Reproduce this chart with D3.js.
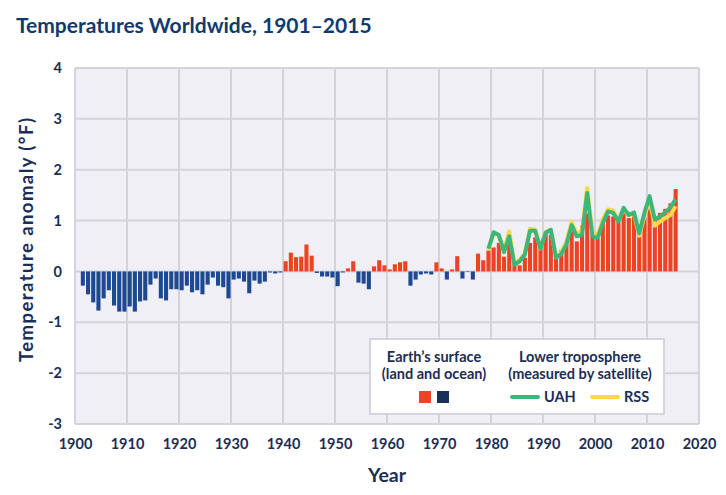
<!DOCTYPE html>
<html><head><meta charset="utf-8">
<script src="https://cdn.jsdelivr.net/npm/d3@7/dist/d3.min.js"></script>
<style>
html,body{margin:0;padding:0;background:#fff;}
svg{display:block;font-family:Lato,"Open Sans",sans-serif;}
</style></head>
<body><svg id="c" width="726" height="495"></svg>
<script>
const startYear = 1901;
const surface = [
-0.28,-0.45,-0.61,-0.77,-0.53,-0.37,-0.67,-0.79,-0.79,-0.69,
-0.79,-0.59,-0.57,-0.26,-0.14,-0.53,-0.57,-0.35,-0.35,-0.37,
-0.28,-0.41,-0.37,-0.45,-0.26,-0.12,-0.28,-0.31,-0.53,-0.16,
-0.14,-0.20,-0.43,-0.18,-0.24,-0.20,-0.02,-0.04,-0.02,0.20,
0.37,0.28,0.29,0.53,0.31,-0.03,-0.10,-0.10,-0.12,-0.29,
-0.02,0.06,0.20,-0.22,-0.24,-0.35,0.10,0.22,0.12,0.04,
0.14,0.18,0.20,-0.28,-0.16,-0.06,-0.04,-0.06,0.18,0.06,
-0.16,0.04,0.30,-0.14,-0.01,-0.16,0.35,0.22,0.41,0.47,
0.56,0.29,0.52,0.16,0.12,0.27,0.56,0.67,0.45,0.75,
0.72,0.28,0.42,0.54,0.78,0.59,0.90,1.14,0.72,0.65,
1.00,1.10,1.08,0.98,1.18,1.05,1.08,0.92,1.05,1.28,
1.02,1.15,1.23,1.34,1.62];
const satStart = 1979;
const uah = [0.45,0.77,0.72,0.38,0.69,0.13,0.20,0.33,0.80,0.80,
0.45,0.76,0.82,0.27,0.34,0.53,0.91,0.69,0.72,1.54,
0.69,0.66,0.95,1.18,1.15,0.98,1.25,1.11,1.16,0.75,
1.15,1.48,1.02,1.08,1.16,1.26,1.42];
const rss = [0.42,0.76,0.70,0.40,0.79,0.16,0.22,0.36,0.84,0.82,
0.45,0.78,0.82,0.28,0.38,0.58,0.97,0.72,0.82,1.64,
0.76,0.72,1.02,1.22,1.20,1.00,1.22,1.10,1.14,0.70,
1.08,1.40,0.90,0.98,1.05,1.11,1.28];
const yTicks = [-3,-2,-1,0,1,2,3,4];
const xTicks = d3.range(1900, 2021, 10);
const legendSurface = ["Earth\u2019s surface","(land and ocean)"];
const legendSat = ["Lower troposphere","(measured by satellite)"];
const seriesNames = ["UAH","RSS"];

const navy = "#1b2e55";
const svg = d3.select("#c");
const x = d3.scaleLinear().domain([1900,2020]).range([75,699]);
const y = d3.scaleLinear().domain([-3,4]).range([424,68]);

// plot background
svg.append("rect").attr("x",x(1900)).attr("y",y(4)).attr("width",x(2020)-x(1900)).attr("height",y(-3)-y(4)).attr("fill","#efeff5");
// grid
svg.append("g").selectAll("line").data(yTicks).join("line")
  .attr("x1",x(1900)).attr("x2",x(2020)).attr("y1",d=>y(d)).attr("y2",d=>y(d))
  .attr("stroke","#d3d3d8").attr("stroke-width",2);
svg.append("g").selectAll("line").data(xTicks).join("line")
  .attr("x1",d=>x(d)).attr("x2",d=>x(d)).attr("y1",y(4)).attr("y2",y(-3))
  .attr("stroke","#d3d3d8").attr("stroke-width",2);

// bars
const bw = x(1901)-x(1900);
svg.append("g").selectAll("rect").data(surface).join("rect")
  .attr("x",(d,i)=>x(startYear+i)+0.6)
  .attr("width",bw-1.1)
  .attr("y",d=>y(Math.max(0,d)))
  .attr("height",d=>Math.abs(y(d)-y(0)))
  .attr("fill",d=>d>=0?"#ee4322":"#1f4892");

// lines
const line = d3.line().x((d,i)=>x(satStart+i+0.5)).y(d=>y(d)).curve(d3.curveLinear);
svg.append("path").datum(rss).attr("d",line).attr("fill","none").attr("stroke","#fcd84a").attr("stroke-width",4).attr("stroke-linejoin","round");
svg.append("path").datum(uah).attr("d",line).attr("fill","none").attr("stroke","#3cb679").attr("stroke-width",4).attr("stroke-linejoin","round");

// axes
const ya = svg.append("g").attr("transform",`translate(${x(1900)},0)`)
  .call(d3.axisLeft(y).tickValues(yTicks).tickSize(0).tickPadding(13).tickFormat(d=>d));
ya.select(".domain").remove();
ya.selectAll("text").attr("fill",navy).style("font-size","14.5px").style("font-weight","700").style("font-family","Lato");
const xa = svg.append("g").attr("transform",`translate(0,${y(-3)})`)
  .call(d3.axisBottom(x).tickValues(xTicks).tickSize(0).tickPadding(15).tickFormat(d3.format("d")));
xa.select(".domain").remove();
xa.selectAll("text").attr("fill",navy).style("font-size","14.5px").style("font-weight","700").style("font-family","Lato");

// titles
svg.append("text").attr("x",16).attr("y",33).text("Temperatures Worldwide, 1901\u20132015")
  .attr("fill","#0e3b6e").style("font-size","21px").style("font-weight","700");
svg.append("text").attr("transform","translate(33,240) rotate(-90)").attr("text-anchor","middle")
  .attr("textLength",244).attr("lengthAdjust","spacing")
  .text("Temperature anomaly (\u00B0F)").attr("fill",navy).style("font-size","18.5px").style("font-weight","700");
svg.append("text").attr("x",387).attr("y",482).attr("text-anchor","middle").text("Year")
  .attr("fill",navy).style("font-size","19.5px").style("font-weight","700");

// legend
const lg = svg.append("g");
lg.append("rect").attr("x",370).attr("y",339).attr("width",294).attr("height",75)
  .attr("fill","#fff").attr("stroke","#d6d6da").attr("stroke-width",2);
const lt = (t,cx,yy,anchor)=>lg.append("text").attr("x",cx).attr("y",yy).attr("text-anchor",anchor||"middle")
  .text(t).attr("fill",navy).style("font-size","14.5px").style("font-weight","700");
legendSurface.forEach((t,i)=>lt(t,434,362+i*17));
legendSat.forEach((t,i)=>lt(t,580,362+i*17));
lg.append("rect").attr("x",419).attr("y",391).attr("width",12).attr("height",12).attr("fill","#ee4322");
lg.append("rect").attr("x",437).attr("y",391).attr("width",12).attr("height",12).attr("fill","#1a3059");
const lcol = ["#3cb679","#fcd84a"];
const lx = [512,592];
seriesNames.forEach((n,i)=>{
  lg.append("line").attr("x1",lx[i]).attr("x2",lx[i]+26).attr("y1",397).attr("y2",397)
    .attr("stroke",lcol[i]).attr("stroke-width",4).attr("stroke-linecap","round");
  lt(n,lx[i]+32,402,"start");
});
</script></body></html>
